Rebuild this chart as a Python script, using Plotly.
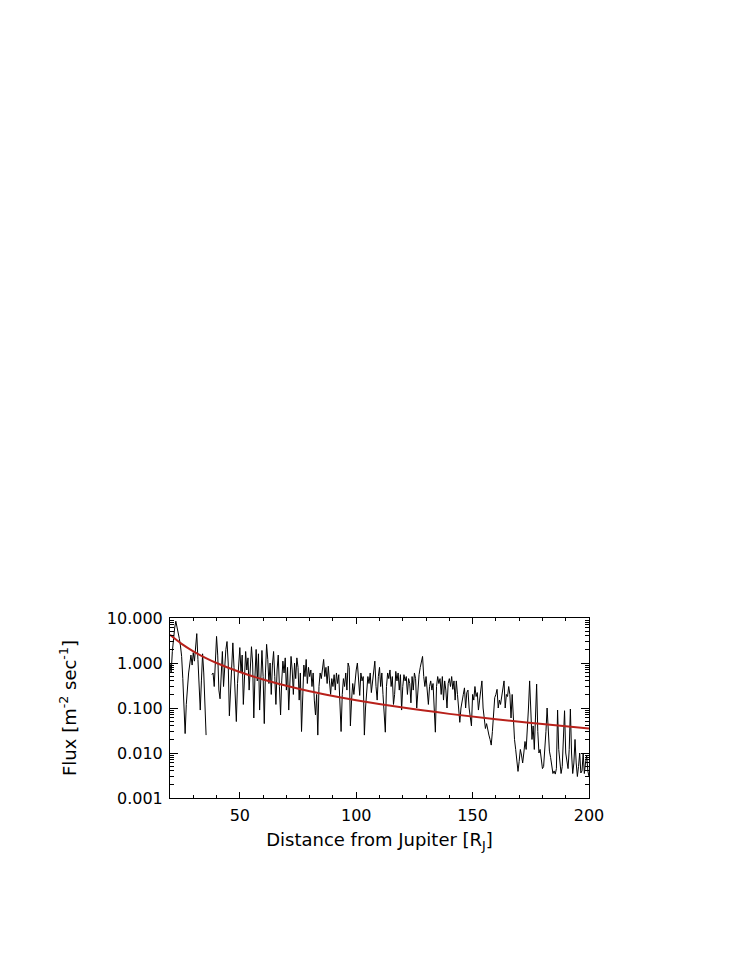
import numpy as np
import plotly.graph_objects as go

# flux samples every 0.5 R_J starting at 20 R_J (None = data gap)
FLUX = [
    1.0, 0.6, 1.8, 3.5, 6.0, 8.5, 6.5, 5.0, 3.5, 2.4,
    1.4, 0.45, 0.08, 0.027, 0.12, 0.35, 0.6, 0.95, 1.5, 0.9,
    1.7, 1.1, 2.5, 4.5, 1.2, 0.25, 0.09, 0.4, 1.6, 0.6,
    0.08, 0.025, None, None, None, None, 0.55, 0.6, 0.3, 1.0,
    3.9, 1.5, 0.25, 0.16, 0.5, 1.8, 0.3, 0.9, 2.0, 3.0,
    1.0, 0.067, 0.3, 1.2, 2.8, 0.8, 0.15, 0.05, 0.35, 1.1,
    2.2, 0.6, 1.5, 0.12, 0.4, 1.8, 0.7, 1.3, 0.25, 0.9,
    2.3, 1.0, 0.06, 0.5, 2.0, 0.4, 1.6, 0.09, 0.8, 1.9,
    0.5, 0.045, 0.6, 2.6, 1.2, 0.35, 1.0, 0.2, 0.9, 1.8,
    0.5, 0.12, 0.7, 1.5, 0.3, 0.07, 0.4, 1.1, 0.6, 1.3,
    0.25, 0.8, 0.09, 0.5, 1.4, 0.7, 0.2, 1.0, 0.45, 1.3,
    0.8, 0.15, 0.6, 0.03, 0.2, 0.9, 0.5, 1.2, 0.35, 0.8,
    0.5, 0.7, 0.3, 0.6, 0.15, 0.07, 0.2, 0.025, 0.3, 0.6,
    0.45, 0.9, 1.2, 0.5, 0.8, 0.35, 0.85, 0.4, 0.2, 0.45,
    0.3, 0.55, 0.25, 0.6, 0.35, 0.55, 0.12, 0.03, 0.2, 0.45,
    0.3, 0.6, 0.25, 1.0, 0.8, 0.04, 0.15, 0.35, 0.2, 0.5,
    0.7, 1.0, 0.3, 0.19, 0.6, 0.4, 0.5, 0.025, 0.1, 0.3,
    0.5, 0.35, 0.6, 0.22, 0.4, 0.7, 1.1, 0.3, 0.15, 0.5,
    0.8, 0.3, 0.6, 0.2, 0.08, 0.029, 0.3, 0.6, 0.45, 0.7,
    0.3, 0.5, 0.12, 0.2, 0.65, 0.4, 0.6, 0.25, 0.55, 0.09,
    0.3, 0.55, 0.4, 0.5, 0.2, 0.45, 0.35, 0.13, 0.5, 0.25,
    0.6, 0.45, 0.1, 0.3, 0.55, 0.8, 1.1, 1.4, 0.5, 0.3,
    0.5, 0.2, 0.12, 0.3, 0.4, 0.25, 0.35, 0.1, 0.029, 0.3,
    0.5, 0.35, 0.45, 0.2, 0.5, 0.15, 0.4, 0.25, 0.1, 0.35,
    0.45, 0.3, 0.5, 0.26, 0.4, 0.15, 0.4, 0.2, 0.1, 0.048,
    0.1, 0.16, 0.2, 0.28, 0.1, 0.22, 0.25, 0.1, 0.06, 0.04,
    0.2, 0.15, 0.3, 0.18, 0.22, 0.09, 0.15, 0.25, 0.4, 0.1,
    0.06, 0.035, 0.045, 0.03, 0.025, 0.02, 0.015, 0.03, 0.06, 0.17,
    0.2, 0.26, 0.1, 0.15, 0.12, 0.17, 0.25, 0.4, 0.1, 0.2,
    0.18, 0.3, 0.2, 0.06, 0.2, 0.05, 0.02, 0.012, 0.006, 0.0039,
    0.0065, 0.012, 0.009, 0.006, 0.01, 0.018, 0.012, 0.03, 0.1, 0.4,
    0.05, 0.02, 0.04, 0.012, 0.06, 0.34, 0.03, 0.01, 0.012, 0.006,
    0.0045, 0.005, 0.01, 0.03, 0.1, 0.02, 0.011, 0.008, 0.005, 0.0035,
    0.004, 0.0034, 0.0045, 0.09, 0.012, 0.006, 0.0035, 0.005, 0.02, 0.087,
    0.01, 0.006, 0.0045, 0.012, 0.095, 0.01, 0.0035, 0.006, 0.02, 0.006,
    0.003, 0.005, 0.01, 0.0036, 0.004, 0.01, 0.0035, 0.006, 0.009, 0.004,
    0.003,
]

# red fitted curve
FIT_DIST = [20, 25, 30, 35, 40, 50, 60, 70, 80, 90, 100, 120, 140, 160, 180, 200]
FIT_FLUX = [4.23, 2.66, 1.82, 1.32, 1.00, 0.63, 0.43, 0.313, 0.236, 0.185,
            0.149, 0.102, 0.074, 0.056, 0.044, 0.035]

Y_TICKS = [0.001, 0.01, 0.1, 1, 10]
Y_TICK_TEXT = ["0.001", "0.010", "0.100", "1.000", "10.000"]
X_TICKS = [50, 100, 150, 200]

dist = 20 + 0.5 * np.arange(len(FLUX))

# log minor ticks 2..9 in each decade
y_minor = [m * 10.0 ** e for e in range(-3, 1) for m in range(2, 10)]

fig = go.Figure()
fig.add_trace(go.Scatter(
    x=dist, y=FLUX, mode="lines",
    line=dict(color="black", width=1),
    connectgaps=False, showlegend=False
))
fig.add_trace(go.Scatter(
    x=FIT_DIST, y=FIT_FLUX, mode="lines",
    line=dict(color="#B8211B", width=2, shape="spline"),
    showlegend=False
))

# page body has an 8px margin, so the figure is 8px smaller than the window
fig.update_layout(
    width=740, height=960,
    paper_bgcolor="white", plot_bgcolor="white",
    margin=dict(l=162, r=159, t=610, b=170),
    font=dict(family="DejaVu Sans, sans-serif", size=15, color="black"),
)

fig.update_xaxes(
    range=[20, 200],
    tickvals=X_TICKS,
    tickfont=dict(size=16), ticklabelstandoff=3,
    ticks="inside", ticklen=6, tickwidth=1, tickcolor="black",
    minor=dict(dtick=10, ticks="inside", ticklen=3, tickcolor="black"),
    showline=True, linecolor="black", linewidth=1, mirror="allticks",
    showgrid=False, zeroline=False,
    title=dict(text="Distance from Jupiter [R<sub>J</sub>]", standoff=9),
)
fig.update_yaxes(
    type="log", range=[-3, 1],
    tickvals=Y_TICKS, ticktext=Y_TICK_TEXT,
    tickfont=dict(size=16), ticklabelstandoff=3,
    ticks="inside", ticklen=8, tickwidth=1, tickcolor="black",
    minor=dict(tickvals=y_minor, ticks="inside", ticklen=4,
               tickcolor="black", showgrid=False),
    showline=True, linecolor="black", linewidth=1, mirror="allticks",
    showgrid=False, zeroline=False,
    title=dict(text="Flux [m<sup>-2</sup> sec<sup>-1</sup>]", standoff=25),
)

fig.write_html("out.html")
